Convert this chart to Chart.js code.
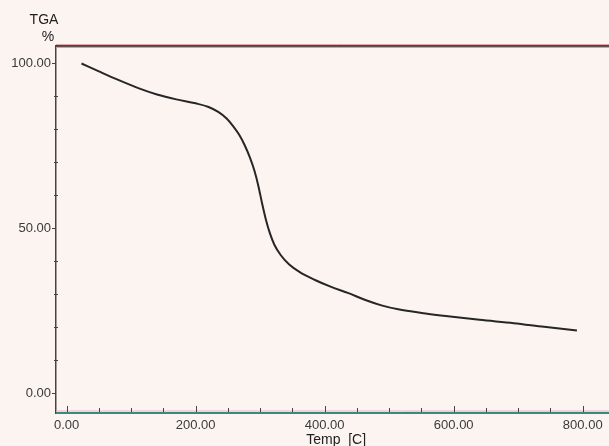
<!DOCTYPE html>
<html>
<head>
<meta charset="utf-8">
<script src="https://cdn.jsdelivr.net/npm/chart.js@4.4.1/dist/chart.umd.min.js"></script>
<style>
  html, body { margin: 0; padding: 0; background: #fbf4f1; overflow: hidden; }
  #wrap { width: 609px; height: 446px; overflow: hidden; position: relative; }
  #box { width: 620px; height: 446px; position: absolute; left: 0; top: 0; }
</style>
</head>
<body>
<div id="wrap"><div id="box"><canvas id="tga"></canvas></div></div>
<script>
// TGA curve (temperature in C, mass in %)
const temps = [23, 50, 80, 110, 140, 170, 200, 220, 235, 248, 258, 267, 276, 284, 291, 297, 303, 309, 315, 322, 332, 345, 362, 385, 410, 437, 462, 488, 514, 550, 591, 640, 693, 740, 791];
const mass  = [100, 97.6, 95.0, 92.6, 90.6, 89.1, 87.9, 86.8, 85.3, 83.3, 81.0, 78.5, 75.2, 71.5, 67.5, 63.0, 57.5, 52.5, 48.5, 45.0, 41.8, 39.0, 36.6, 34.3, 32.2, 30.3, 28.3, 26.6, 25.4, 24.3, 23.3, 22.2, 21.2, 20.1, 19.0];

const xLabelTicks = [0, 200, 400, 600, 800];
const yLabelTicks = [0, 50, 100];

const points = temps.map((t, i) => ({ x: t, y: mass[i] }));
const font = 'Liberation Sans, Arial, sans-serif';
const axisColor = '#444';

// frame lines, inward tick marks and the "TGA %" heading
const extras = {
  id: 'extras',
  afterDraw(chart) {
    const c = chart.ctx, a = chart.chartArea;
    const xs = chart.scales.x, ys = chart.scales.y;
    c.save();
    // top frame (several overlapping traces in the original)
    c.lineWidth = 1; c.strokeStyle = '#c85a5a';
    c.beginPath(); c.moveTo(a.left, a.top - 1); c.lineTo(a.right, a.top - 1); c.stroke();
    c.lineWidth = 1.5; c.strokeStyle = '#2b1c1c';
    c.beginPath(); c.moveTo(a.left, a.top); c.lineTo(a.right, a.top); c.stroke();
    c.lineWidth = 1; c.strokeStyle = '#7fc2cc';
    c.beginPath(); c.moveTo(a.left, a.top + 1.5); c.lineTo(a.right, a.top + 1.5); c.stroke();
    // bottom traces
    c.lineWidth = 1; c.strokeStyle = '#eab0c8';
    c.beginPath(); c.moveTo(a.left, a.bottom - 2); c.lineTo(a.right, a.bottom - 2); c.stroke();
    c.strokeStyle = '#e8de88';
    c.beginPath(); c.moveTo(xs.getPixelForValue(520), a.bottom - 1.5); c.lineTo(a.right, a.bottom - 1.5); c.stroke();
    c.lineWidth = 2; c.strokeStyle = '#3b8a78';
    c.beginPath(); c.moveTo(a.left, a.bottom); c.lineTo(a.right, a.bottom); c.stroke();
    // x ticks pointing up into the plot
    c.strokeStyle = axisColor; c.lineWidth = 1;
    for (let v = 0; v <= xs.max; v += 50) {
      const px = Math.round(xs.getPixelForValue(v)) + 0.5;
      const len = v % 200 === 0 ? 6 : 4;
      c.beginPath(); c.moveTo(px, a.bottom - 1); c.lineTo(px, a.bottom - 1 - len); c.stroke();
    }
    // minor y ticks crossing the axis
    for (let v = 10; v < ys.max; v += 10) {
      if (v % 50 === 0) continue;
      const py = Math.round(ys.getPixelForValue(v)) + 0.5;
      c.beginPath(); c.moveTo(a.left - 2, py); c.lineTo(a.left + 2, py); c.stroke();
    }
    // y heading
    c.fillStyle = '#222';
    c.font = '14px ' + font;
    c.textAlign = 'center'; c.textBaseline = 'middle';
    c.fillText('TGA', 44, 20);
    c.fillText('%', 48, 37);
    c.restore();
  }
};

new Chart(document.getElementById('tga'), {
  type: 'scatter',
  data: {
    datasets: [{
      data: points,
      showLine: true,
      borderColor: '#262626',
      borderWidth: 2,
      pointRadius: 0,
      cubicInterpolationMode: 'monotone'
    }]
  },
  options: {
    responsive: true,
    maintainAspectRatio: false,
    animation: false,
    layout: { padding: { top: 46, right: 0, left: 0, bottom: 0 } },
    plugins: { legend: { display: false }, tooltip: { enabled: false } },
    scales: {
      x: {
        type: 'linear',
        min: -16.5,
        max: 852,
        afterFit(s) { s.height = 33; },
        border: { display: false },
        grid: { display: true, drawOnChartArea: false, drawTicks: false },
        ticks: {
          stepSize: 50,
          includeBounds: false,
          autoSkip: false,
          maxRotation: 0,
          padding: 5,
          color: '#3a3a3a',
          font: { family: font, size: 13 },
          callback: v => xLabelTicks.includes(v) ? v.toFixed(2) : ''
        },
        title: {
          display: true,
          text: 'Temp  [C]',
          color: '#222',
          font: { family: font, size: 14, lineHeight: 0.8 },
          padding: { top: 0, bottom: 0 }
        }
      },
      y: {
        min: -6.06,
        max: 105.3,
        afterFit(s) { s.width = 56; },
        border: { display: true, color: axisColor, width: 1.5 },
        grid: {
          drawOnChartArea: false,
          tickLength: 4,
          tickColor: ctx => yLabelTicks.includes(ctx.tick.value) ? axisColor : 'rgba(0,0,0,0)'
        },
        ticks: {
          stepSize: 10,
          includeBounds: false,
          autoSkip: false,
          padding: 1,
          color: '#3a3a3a',
          font: { family: font, size: 13 },
          callback: v => yLabelTicks.includes(v) ? v.toFixed(2) : ''
        }
      }
    }
  },
  plugins: [extras]
});
</script>
</body>
</html>
